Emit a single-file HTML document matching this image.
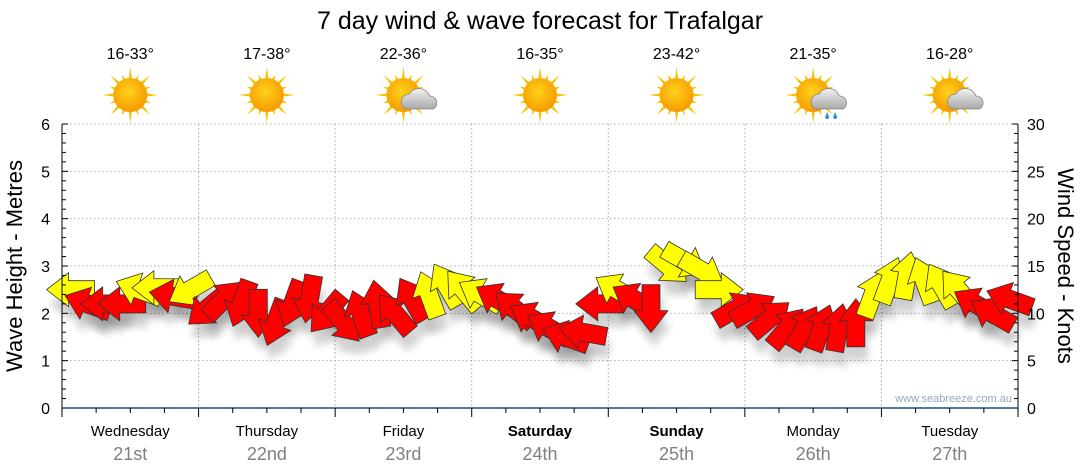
<!DOCTYPE html>
<html><head><meta charset="utf-8"><style>
body{margin:0;background:#fff;}
svg{display:block;font-family:"Liberation Sans",sans-serif;}
</style></head><body>
<svg id="c" width="1080" height="475">
<defs>
<filter id="sh" x="-50%" y="-50%" width="200%" height="200%"><feGaussianBlur stdDeviation="4"/></filter>
<radialGradient id="sun" cx="45%" cy="40%" r="60%"><stop offset="0" stop-color="#ffd21a"/><stop offset="1" stop-color="#f59a00"/></radialGradient>
<linearGradient id="cloud" x1="0" y1="0" x2="0" y2="1"><stop offset="0" stop-color="#f2f2f2"/><stop offset="1" stop-color="#a8a8a8"/></linearGradient>
</defs>
<text x="540" y="29" text-anchor="middle" font-size="25" fill="#000">7 day wind &amp; wave forecast for Trafalgar</text>
<g id="grid"></g>
<g id="icons"></g>
<g id="shadows"></g>
<g id="arrows"></g>
<g id="axes"></g>
<text x="1012" y="402" text-anchor="end" font-size="11" fill="#9aa6b8">www.seabreeze.com.au</text>
<text transform="translate(22,266) rotate(-90)" text-anchor="middle" font-size="22">Wave Height - Metres</text>
<text transform="translate(1058,266) rotate(90)" text-anchor="middle" font-size="22">Wind Speed - Knots</text>
</svg>
<script>
const days=["Wednesday","Thursday","Friday","Saturday","Sunday","Monday","Tuesday"];
const dates=["21st","22nd","23rd","24th","25th","26th","27th"];
const temps=["16-33°","17-38°","22-36°","16-35°","23-42°","21-35°","16-28°"];
const icons=["sun","sun","cloud","sun","sun","rain","cloud"];
const waveTicks=[0,1,2,3,4,5,6];
const windTicks=[0,5,10,15,20,25,30];
// wind every 3 hours
const windSpeed=[12.5,11,11,11,12.5,12.7,11.8,12.5,
 10.5,11.5,11,10,9,11,11.5,10,
 9,10,11,10,11.5,12,13,12.5,
 12,11.5,10.5,9.5,8.5,7.5,8,11,
 12.5,11.5,10.5,15,15.5,14.5,12.5,10.5,
 10.5,9.5,8.5,8.5,8.5,8.5,9,12,
 13.5,14,13.5,13,12.5,11,10,11.5];
const windDir=[270,290,270,270,290,270,280,240,
 230,45,200,180,200,200,190,220,
 140,340,350,320,330,340,330,320,
 300,300,310,300,300,290,280,270,
 300,300,180,130,120,120,90,60,
 60,50,40,30,20,10,0,20,
 20,10,340,330,320,300,300,290];
const X0=62,X1=1018,Y0=408,YT=124;
const dayW=(X1-X0)/7;
const xT=h=>X0+h/168*(X1-X0);
const yW=m=>Y0-m/6*(Y0-YT);
const yK=k=>Y0-k/30*(Y0-YT);
const NS="http://www.w3.org/2000/svg";
function mk(t,a,p){const e=document.createElementNS(NS,t);for(const k in a)e.setAttribute(k,a[k]);p.appendChild(e);return e;}
const grid=document.getElementById('grid'),axes=document.getElementById('axes');
waveTicks.forEach(m=>{if(m>0){const l=mk('line',{x1:X0,x2:X1,y1:yW(m),y2:yW(m),stroke:'#aaa','stroke-dasharray':'1.5,2.5'},grid);}
 const t=mk('text',{x:50,y:yW(m)+6,'text-anchor':'end','font-size':16},axes);t.textContent=m;});
windTicks.forEach(k=>{const t=mk('text',{x:1027,y:yK(k)+6,'font-size':16},axes);t.textContent=k;});
for(let i=1;i<7;i++){const l=mk('line',{x1:X0+i*dayW,x2:X0+i*dayW,y1:YT,y2:Y0,stroke:'#aaa','stroke-dasharray':'1.5,2.5'},grid);}
mk('line',{x1:X0,x2:X0,y1:YT,y2:Y0+8,stroke:'#000'},axes);
mk('line',{x1:X1,x2:X1,y1:YT,y2:Y0,stroke:'#000'},axes);
for(let m=0;m<=6.001;m+=0.2){mk('line',{x1:X0,x2:X0+(Math.abs(m-Math.round(m))<0.01?6:4),y1:yW(m),y2:yW(m),stroke:'#000'},axes);}
for(let k=0;k<=30;k++){mk('line',{x1:X1-(k%5==0?6:4),x2:X1,y1:yK(k),y2:yK(k),stroke:'#000'},axes);}
mk('line',{x1:X0,x2:X1,y1:Y0,y2:Y0,stroke:'#1a4f7a','stroke-width':1.5},axes);
for(let h=0;h<=168;h+=6){mk('line',{x1:xT(h),x2:xT(h),y1:Y0,y2:Y0+(h%24==0?9:5),stroke:'#000'},axes);}
days.forEach((d,i)=>{const cx=X0+(i+0.5)*dayW;const bold=(d=="Saturday"||d=="Sunday");
 const t=mk('text',{x:cx,y:436,'text-anchor':'middle','font-size':15,'font-weight':bold?'bold':'normal'},axes);t.textContent=d;
 const t2=mk('text',{x:cx,y:460,'text-anchor':'middle','font-size':18,fill:'#808080'},axes);t2.textContent=dates[i];
 const t3=mk('text',{x:cx,y:59,'text-anchor':'middle','font-size':16},axes);t3.textContent=temps[i];
 const g=mk('g',{transform:`translate(${cx},95)`},document.getElementById('icons'));
 let rays='';for(let r=0;r<16;r++){const a=r*Math.PI/8,len=r%2?22:28;const x1=Math.cos(a-0.12)*15,y1=Math.sin(a-0.12)*15,x2=Math.cos(a)*len,y2=Math.sin(a)*len,x3=Math.cos(a+0.12)*15,y3=Math.sin(a+0.12)*15;rays+=`M${x1},${y1}L${x2},${y2}L${x3},${y3}Z`;}
 mk('path',{d:rays,fill:'#f5c400'},g);
 mk('circle',{r:17,fill:'url(#sun)'},g);
 if(icons[i]!="sun"){mk('path',{d:'M2,14 a8,8 0 0 1 4,-15 a11,11 0 0 1 20,2 a7,7 0 0 1 4,13 Z',fill:'url(#cloud)',stroke:'#888','stroke-width':0.8},g);}
 if(icons[i]=="rain"){mk('path',{d:'M14,17 l-2,5 a2,2 0 0 0 4,0 Z M22,17 l-2,5 a2,2 0 0 0 4,0 Z',fill:'#2a8fe0'},g);}
});
const A=document.getElementById('arrows'),S=document.getElementById('shadows');
const ap="M-9,24 L-9,-2 L-17,-2 L0,-24 L17,-2 L9,-2 L9,24 Z";
windSpeed.forEach((s,i)=>{const x=xT(i*3+1.5),y=yK(s);
 const sh=mk('path',{d:ap,fill:'#000',opacity:0.18,filter:'url(#sh)',transform:`translate(${x+3},${y+14}) rotate(${windDir[i]})`},S);
 
 const a=mk('path',{d:ap,fill:s>=12?'#ffff00':'#ff0000',stroke:'#333','stroke-width':0.8,transform:`translate(${x},${y}) rotate(${windDir[i]})`},A);
 
});
</script>
</body></html>
